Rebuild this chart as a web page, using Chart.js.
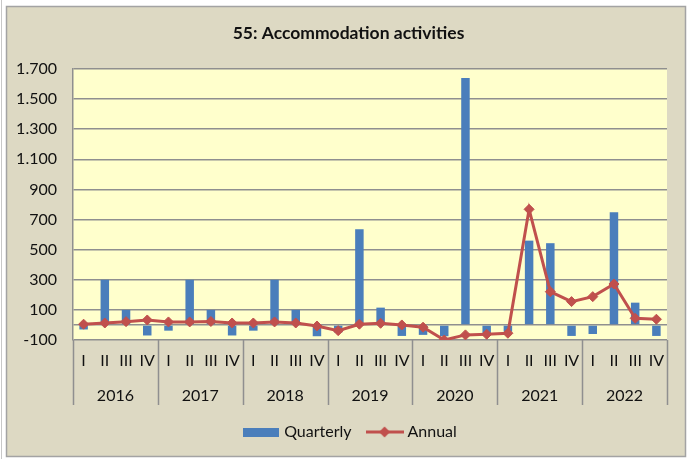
<!DOCTYPE html>
<html>
<head>
<meta charset="utf-8">
<script src="https://cdn.jsdelivr.net/npm/chart.js@4.4.1/dist/chart.umd.min.js"></script>
<style>
html,body{margin:0;padding:0;background:#fff;}
#wrap{width:691px;height:459px;}
</style>
</head>
<body>
<div id="wrap"><canvas id="c" width="691" height="459"></canvas></div>
<script>
// ---- data ----
const years = ['2016', '2017', '2018', '2019', '2020', '2021', '2022'];
const quarterLabels = ['I', 'II', 'III', 'IV'];
const categories = years.flatMap(y => quarterLabels.map(q => y + ' ' + q));
const quarterly = [
  -30, 300, 100, -70,
  -38, 300, 100, -70,
  -38, 300, 100, -75,
  -50, 635, 115, -73,
  -66, -75, 1640, -66,
  -45, 560, 543, -73,
  -60, 748, 148, -73
];
const annual = [
  5, 13, 22, 33,
  20, 20, 23, 13,
  13, 20, 13, -7,
  -38, 5, 11, 0,
  -15, -100, -66, -62,
  -55, 768, 221, 155,
  188, 272, 44, 38
];
const yTickValues = [-100, 0, 100, 300, 500, 700, 900, 1100, 1300, 1500, 1700];
const yLabeledTicks = [-100, 100, 300, 500, 700, 900, 1100, 1300, 1500, 1700];
const titleText = '55: Accommodation activities';
const seriesNames = ['Quarterly', 'Annual'];

// ---- styles ----
const FONT = 'Lato, "Open Sans", sans-serif';
const BLUE = '#4a7ebb';
const RED = '#c0504d';
const GRID = '#8f8f8f';
const TEXT = '#111';

function fmt(v) {
  return String(v).replace(/\B(?=(\d{3})+(?!\d))/g, '.');
}

// legend images
function makeBarImg() {
  const c = document.createElement('canvas');
  c.width = 36; c.height = 9;
  const g = c.getContext('2d');
  g.fillStyle = BLUE; g.fillRect(0, 0, 36, 9);
  return c;
}
function makeLineImg() {
  const c = document.createElement('canvas');
  c.width = 38; c.height = 12;
  const g = c.getContext('2d');
  g.strokeStyle = RED; g.lineWidth = 3;
  g.beginPath(); g.moveTo(0, 6); g.lineTo(38, 6); g.stroke();
  g.fillStyle = RED;
  g.beginPath(); g.moveTo(19, 0.5); g.lineTo(24.5, 6); g.lineTo(19, 11.5); g.lineTo(13.5, 6); g.closePath(); g.fill();
  return c;
}
const legendImgs = [makeBarImg(), makeLineImg()];

const decor = {
  id: 'decor',
  afterLayout(chart) {
    const lg = chart.legend;
    if (lg) { lg.left += 18; lg.right += 18; }
    const tb = chart.titleBlock;
    if (tb) { tb.left += 15; tb.right += 15; }
  },
  beforeDraw(chart) {
    const { ctx, chartArea: a, width, height } = chart;
    ctx.save();
    ctx.fillStyle = '#ffffff';
    ctx.fillRect(0, 0, width, height);
    ctx.fillStyle = '#c8c8c8';
    ctx.fillRect(1, 0, 1, height);
    ctx.fillStyle = '#ddd9c3';
    ctx.fillRect(6, 6, 680, 451);
    ctx.strokeStyle = '#a3a3a3';
    ctx.lineWidth = 1.5;
    ctx.strokeRect(6.5, 6.5, 679, 450);
    ctx.fillStyle = '#ffffcc';
    ctx.fillRect(a.left, a.top, a.right - a.left, a.bottom - a.top);
    ctx.restore();
  },
  afterDraw(chart) {
    const { ctx, chartArea: a } = chart;
    const x = chart.scales.x;
    const yb = chart.scales.years.top + 27;
    ctx.save();
    ctx.strokeStyle = GRID;
    ctx.lineWidth = 1.5;
    for (let k = 0; k <= years.length; k++) {
      const px = Math.round(x.getPixelForValue(k * 4 - 0.5)) + 0.5;
      ctx.beginPath();
      ctx.moveTo(px, a.bottom);
      ctx.lineTo(px, yb);
      ctx.stroke();
    }
    ctx.restore();
  }
};

new Chart(document.getElementById('c'), {
  type: 'bar',
  data: {
    labels: categories,
    datasets: [
      {
        type: 'bar',
        label: seriesNames[0],
        data: quarterly,
        backgroundColor: BLUE,
        borderWidth: 0,
        categoryPercentage: 1,
        barPercentage: 0.4,
        order: 2
      },
      {
        type: 'line',
        label: seriesNames[1],
        data: annual,
        borderColor: RED,
        backgroundColor: RED,
        borderWidth: 3,
        pointStyle: 'rectRot',
        pointRadius: 5,
        pointBorderWidth: 1,
        pointBackgroundColor: RED,
        pointBorderColor: RED,
        tension: 0,
        order: 1
      }
    ]
  },
  options: {
    responsive: false,
    animation: false,
    devicePixelRatio: 1,
    layout: { padding: { top: 10, left: 0, right: 24, bottom: 9 } },
    scales: {
      x: {
        type: 'category',
        position: 'bottom',
        offset: true,
        grid: { display: false, drawTicks: false },
        border: { display: false },
        ticks: {
          autoSkip: false,
          maxRotation: 0,
          padding: 11,
          color: TEXT,
          font: { family: FONT, size: 16 },
          callback: (v, i) => quarterLabels[i % 4]
        },
        afterFit: s => { s.height = 38; }
      },
      years: {
        type: 'category',
        position: 'bottom',
        labels: years,
        offset: true,
        grid: { display: false, drawTicks: false },
        border: { display: false },
        ticks: {
          autoSkip: false,
          maxRotation: 0,
          padding: 8,
          color: TEXT,
          font: { family: FONT, size: 16 }
        },
        afterFit: s => { s.height = 28; }
      },
      y: {
        type: 'linear',
        min: -100,
        max: 1700,
        afterBuildTicks: s => { s.ticks = yTickValues.map(v => ({ value: v })); },
        grid: { color: GRID, lineWidth: 1.5, drawTicks: false },
        border: { display: true, color: GRID, width: 1.5 },
        ticks: {
          padding: 16,
          color: TEXT,
          font: { family: FONT, size: 16 },
          callback: v => yLabeledTicks.includes(v) ? fmt(v) : ''
        },
        afterFit: s => { s.width = 73; }
      }
    },
    plugins: {
      title: {
        display: true,
        text: titleText,
        color: TEXT,
        font: { family: FONT, size: 17.5, weight: 'bold' },
        padding: { top: 12.5, bottom: 25.5 }
      },
      legend: {
        display: true,
        position: 'bottom',
        labels: {
          usePointStyle: true,
          pointStyleWidth: 30,
          padding: 18,
          color: TEXT,
          font: { family: FONT, size: 16 },
          generateLabels: chart => chart.data.datasets.map((ds, i) => ({
            text: ds.label,
            pointStyle: legendImgs[i],
            fillStyle: i === 0 ? BLUE : RED,
            strokeStyle: i === 0 ? BLUE : RED,
            lineWidth: 0,
            hidden: false,
            datasetIndex: i,
            fontColor: TEXT
          }))
        }
      },
      tooltip: { enabled: false }
    }
  },
  plugins: [decor]
});
</script>
</body>
</html>
